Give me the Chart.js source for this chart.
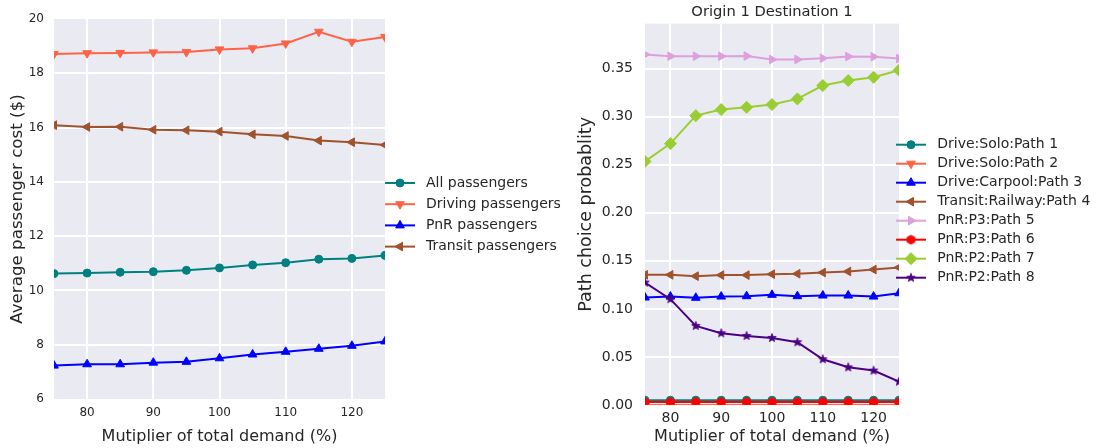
<!DOCTYPE html>
<html>
<head>
<meta charset="utf-8">
<script src="https://cdn.jsdelivr.net/npm/chart.js@4.4.1/dist/chart.umd.min.js"></script>
<style>
  html, body { margin: 0; padding: 0; background: #ffffff; }
  body { width: 1096px; height: 448px; position: relative; overflow: hidden; }
  canvas { position: absolute; top: 0; }
  #left { left: 0px; }
  #right { left: 570px; }
</style>
</head>
<body>
<canvas id="left" width="580" height="448"></canvas>
<canvas id="right" width="526" height="448"></canvas>
<script>
// ---------------- data ----------------
const demandMultiplier = [75, 80, 85, 90, 95, 100, 105, 110, 115, 120, 125];
const xTickValues = [80, 90, 100, 110, 120];

// left panel: average passenger cost ($)
const allPassengers     = [10.62, 10.64, 10.67, 10.69, 10.74, 10.83, 10.94, 11.02, 11.15, 11.18, 11.29];
const drivingPassengers = [18.71, 18.74, 18.75, 18.77, 18.78, 18.88, 18.92, 19.10, 19.53, 19.16, 19.34];
const pnrPassengers     = [7.23, 7.28, 7.28, 7.34, 7.37, 7.50, 7.64, 7.74, 7.85, 7.96, 8.12];
const transitPassengers = [16.09, 16.02, 16.03, 15.92, 15.90, 15.85, 15.75, 15.69, 15.52, 15.46, 15.36];
const costTickValues = [6, 8, 10, 12, 14, 16, 18, 20];

// right panel: path choice probability, Origin 1 Destination 1
const path1 = [0.005, 0.005, 0.005, 0.005, 0.005, 0.005, 0.005, 0.005, 0.005, 0.005, 0.005];
const path2 = [0.000, 0.000, 0.000, 0.000, 0.000, 0.000, 0.000, 0.000, 0.000, 0.000, 0.000];
const path3 = [0.1118, 0.1128, 0.1115, 0.1128, 0.1132, 0.1146, 0.1132, 0.1139, 0.1139, 0.1128, 0.1163];
const path4 = [0.1354, 0.1354, 0.1340, 0.1351, 0.1351, 0.1361, 0.1365, 0.1378, 0.1389, 0.1409, 0.1430];
const path5 = [0.3646, 0.3628, 0.3628, 0.3628, 0.3630, 0.3594, 0.3594, 0.3607, 0.3625, 0.3622, 0.3604];
const path6 = [0.003, 0.003, 0.003, 0.003, 0.003, 0.003, 0.003, 0.003, 0.003, 0.003, 0.003];
const path7 = [0.2534, 0.2719, 0.3010, 0.3073, 0.3097, 0.3125, 0.3184, 0.3323, 0.3375, 0.3409, 0.3482];
const path8 = [0.1274, 0.1101, 0.0823, 0.0747, 0.0719, 0.0698, 0.0653, 0.0476, 0.0392, 0.0358, 0.0243];
const probTickValues = [0.00, 0.05, 0.10, 0.15, 0.20, 0.25, 0.30, 0.35];

// ---------------- helpers ----------------
const FONT = "'DejaVu Sans', 'Liberation Sans', sans-serif";
const TEXT = '#262626';
const BG = '#EAEAF2';

function pts(ys) { return ys.map((y, i) => ({ x: demandMultiplier[i], y: y })); }

function markerCanvas(kind, color, r) {
  const size = Math.ceil(r * 2 + 3);
  const c = document.createElement('canvas');
  c.width = size; c.height = size;
  const g = c.getContext('2d');
  const cx = size / 2, cy = size / 2;
  g.fillStyle = color; g.strokeStyle = color; g.lineWidth = 0.8;
  g.beginPath();
  if (kind === 'star') {
    for (let k = 0; k < 10; k++) {
      const rr = k % 2 === 0 ? r : r * 0.42;
      const a = -Math.PI / 2 + k * Math.PI / 5;
      const px = cx + rr * Math.cos(a), py = cy + rr * Math.sin(a);
      if (k === 0) g.moveTo(px, py); else g.lineTo(px, py);
    }
  } else {
    for (let k = 0; k < 6; k++) {
      const a = -Math.PI / 2 + k * Math.PI / 3;
      const px = cx + r * Math.cos(a), py = cy + r * Math.sin(a);
      if (k === 0) g.moveTo(px, py); else g.lineTo(px, py);
    }
  }
  g.closePath(); g.fill(); g.stroke();
  return c;
}

function series(label, ys, color, style, radius, rotation) {
  return {
    label: label,
    data: pts(ys),
    borderColor: color,
    backgroundColor: color,
    pointBackgroundColor: color,
    pointBorderColor: color,
    pointBorderWidth: 1,
    pointStyle: style,
    pointRadius: radius,
    pointRotation: rotation || 0,
    borderWidth: 2,
    tension: 0,
    fill: false,
    clip: 0
  };
}

const bgPlugin = {
  id: 'plotBg',
  beforeDraw(chart) {
    const a = chart.chartArea, ctx = chart.ctx;
    ctx.save(); ctx.fillStyle = BG;
    ctx.fillRect(a.left, a.top, a.right - a.left, a.bottom - a.top);
    ctx.restore();
  }
};

const legendPlugin = {
  id: 'mplLegend',
  afterDraw(chart, args, opts) {
    const ctx = chart.ctx;
    ctx.save();
    chart.data.datasets.forEach((ds, i) => {
      const y = opts.y + i * opts.spacing;
      ctx.strokeStyle = ds.borderColor; ctx.lineWidth = 2;
      ctx.beginPath(); ctx.moveTo(opts.x, y); ctx.lineTo(opts.x + opts.lineLen, y); ctx.stroke();
      ctx.fillStyle = ds.pointBackgroundColor; ctx.strokeStyle = ds.pointBorderColor; ctx.lineWidth = 1;
      Chart.helpers.drawPoint(ctx, {
        pointStyle: ds.pointStyle, rotation: ds.pointRotation, radius: ds.pointRadius, borderWidth: 1
      }, opts.x + opts.lineLen / 2, y);
      ctx.fillStyle = TEXT;
      ctx.font = opts.fontSize + 'px ' + FONT;
      ctx.textBaseline = 'middle'; ctx.textAlign = 'left';
      ctx.fillText(ds.label, opts.textX, y);
    });
    ctx.restore();
  }
};

function edgeless(values) {
  const lo = Math.min.apply(null, values), hi = Math.max.apply(null, values);
  return (c) => (c.tick && (c.tick.value === lo || c.tick.value === hi)) ? 'rgba(0,0,0,0)' : '#ffffff';
}

// ---------------- left chart ----------------
new Chart(document.getElementById('left'), {
  type: 'line',
  data: {
    datasets: [
      series('All passengers', allPassengers, '#008080', 'circle', 4),
      series('Driving passengers', drivingPassengers, '#FF6347', 'triangle', 5, 180),
      series('PnR passengers', pnrPassengers, '#0000FF', 'triangle', 5, 0),
      series('Transit passengers', transitPassengers, '#A0522D', 'triangle', 5, 270)
    ].map((d, i, arr) => Object.assign(d, { order: arr.length - i }))
  },
  options: {
    responsive: false, animation: false, devicePixelRatio: 1,
    layout: { padding: { top: 19, right: 195, left: 0, bottom: 0 } },
    plugins: {
      legend: { display: false }, tooltip: { enabled: false },
      mplLegend: { x: 385, y: 183, spacing: 21.2, lineLen: 30, textX: 426, fontSize: 14 }
    },
    scales: {
      x: {
        type: 'linear', min: 75, max: 125,
        afterFit: (s) => { s.height = 49; },
        afterBuildTicks: (s) => { s.ticks = xTickValues.map(v => ({ value: v })); },
        grid: { color: '#ffffff', lineWidth: 2, drawTicks: false },
        border: { display: false },
        ticks: { padding: 7, color: TEXT, font: { family: FONT, size: 12 }, maxRotation: 0, autoSkip: false },
        title: { display: true, text: 'Mutiplier of total demand (%)', color: TEXT,
                 font: { family: FONT, size: 16, lineHeight: 1.2 }, padding: { top: 0, bottom: 2 } }
      },
      y: {
        type: 'linear', min: 6, max: 20,
        afterFit: (s) => { s.width = 54; },
        afterBuildTicks: (s) => { s.ticks = costTickValues.map(v => ({ value: v })); },
        grid: { color: edgeless(costTickValues), lineWidth: 2, drawTicks: false },
        border: { display: false },
        ticks: { padding: 10, color: TEXT, font: { family: FONT, size: 12 }, autoSkip: false },
        title: { display: true, text: 'Average passenger cost ($)', color: TEXT,
                 font: { family: FONT, size: 16.7, lineHeight: 1.2 }, padding: { top: 8, bottom: 0 } }
      }
    }
  },
  plugins: [bgPlugin, legendPlugin]
});

// ---------------- right chart ----------------
const starImg = markerCanvas('star', '#4B0082', 4.5);
const hexImg = markerCanvas('hex', '#FF0000', 4.6);

new Chart(document.getElementById('right'), {
  type: 'line',
  data: {
    datasets: [
      series('Drive:Solo:Path 1', path1, '#008080', 'circle', 4),
      series('Drive:Solo:Path 2', path2, '#FF6347', 'triangle', 5, 180),
      series('Drive:Carpool:Path 3', path3, '#0000FF', 'triangle', 5, 0),
      series('Transit:Railway:Path 4', path4, '#A0522D', 'triangle', 5, 270),
      series('PnR:P3:Path 5', path5, '#DDA0DD', 'triangle', 5, 90),
      series('PnR:P3:Path 6', path6, '#FF0000', hexImg, 4.6),
      series('PnR:P2:Path 7', path7, '#9ACD32', 'rectRot', 6),
      series('PnR:P2:Path 8', path8, '#4B0082', starImg, 4.5)
    ].map((d, i, arr) => Object.assign(d, { order: arr.length - i }))
  },
  options: {
    responsive: false, animation: false, devicePixelRatio: 1,
    layout: { padding: { top: 0, right: 197, left: 0, bottom: 0 } },
    plugins: {
      legend: { display: false }, tooltip: { enabled: false },
      title: { display: true, fullSize: false, align: 'center', text: 'Origin 1 Destination 1', color: TEXT,
               font: { family: FONT, size: 14.7, weight: 'normal', lineHeight: 1.2 },
               padding: { top: 3, bottom: 3 } },
      mplLegend: { x: 326, y: 144.7, spacing: 19, lineLen: 30, textX: 367.3, fontSize: 14 }
    },
    scales: {
      x: {
        type: 'linear', min: 75, max: 125,
        afterFit: (s) => { s.height = 43; },
        afterBuildTicks: (s) => { s.ticks = xTickValues.map(v => ({ value: v })); },
        grid: { color: '#ffffff', lineWidth: 2, drawTicks: false },
        border: { display: false },
        ticks: { padding: 5, color: TEXT, font: { family: FONT, size: 14 }, maxRotation: 0, autoSkip: false },
        title: { display: true, text: 'Mutiplier of total demand (%)', color: TEXT,
                 font: { family: FONT, size: 16, lineHeight: 1.2 }, padding: { top: 0, bottom: 2 } }
      },
      y: {
        type: 'linear', min: 0, max: 0.3967,
        afterFit: (s) => { s.width = 75; },
        afterBuildTicks: (s) => { s.ticks = probTickValues.map(v => ({ value: v })); },
        grid: { color: edgeless(probTickValues.concat([0.3967])), lineWidth: 2, drawTicks: false },
        border: { display: false },
        ticks: { padding: 12, color: TEXT, font: { family: FONT, size: 14 }, autoSkip: false,
                 callback: (v) => Number(v).toFixed(2) },
        title: { display: true, text: 'Path choice probablity', color: TEXT,
                 font: { family: FONT, size: 17.5, lineHeight: 1.2 }, padding: { top: 5.5, bottom: 0 } }
      }
    }
  },
  plugins: [bgPlugin, legendPlugin]
});
</script>
</body>
</html>
